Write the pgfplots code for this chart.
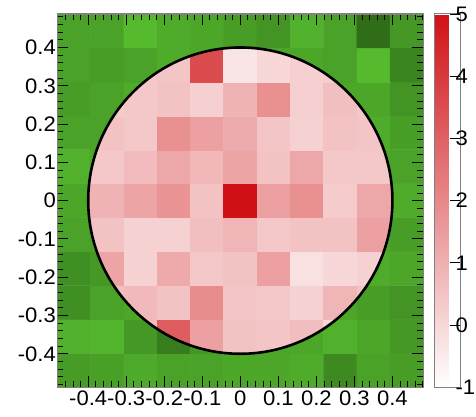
\documentclass[border=0pt]{standalone}
\usepackage{pgfplots}
\pgfplotsset{compat=1.18}
\usepackage{pgfplotstable}
\usepackage{fontspec}
\setmainfont{Liberation Sans}
\newfontfamily\tickfont[FakeStretch=1.05]{Liberation Sans}
\pgfplotsset{
  colormap={greenmap}{rgb255(0cm)=(40,95,20); rgb255(1cm)=(88,190,48)},
  colormap={pinkmap}{rgb255(0cm)=(255,255,255); rgb255(1cm)=(208,18,22)},
}
\pgfplotstableread{
x y pink green
-0.4375 -0.44318 0.5 2.8
-0.35 -0.44318 0.5 3.1
-0.2625 -0.44318 0.5 3.7
-0.175 -0.44318 0.5 3.2
-0.0875 -0.44318 0.5 3.2
0 -0.44318 0.45 3.5
0.0875 -0.44318 0.5 3.5
0.175 -0.44318 0.5 3.8
0.2625 -0.44318 0.5 1.7
0.35 -0.44318 0.5 3.2
0.4375 -0.44318 0.5 2.9
-0.4375 -0.35455 0.5 4.1
-0.35 -0.35455 0.5 4.4
-0.2625 -0.35455 0.65 2.6
-0.175 -0.35455 3.1 0.9
-0.0875 -0.35455 1.4 2.6
0 -0.35455 0.5 3.5
0.0875 -0.35455 0.45 3.5
0.175 -0.35455 0.65 3.5
0.2625 -0.35455 0.0 4.1
0.35 -0.35455 0.5 3.5
0.4375 -0.35455 0.5 2.6
-0.4375 -0.26591 0.5 2.0
-0.35 -0.26591 0.6 3.2
-0.2625 -0.26591 0.75 3.5
-0.175 -0.26591 0.5 3.5
-0.0875 -0.26591 1.9 3.5
0 -0.26591 0.45 3.5
0.0875 -0.26591 0.4 3.5
0.175 -0.26591 0.15 3.5
0.2625 -0.26591 0.85 3.5
0.35 -0.26591 0.5 2.9
0.4375 -0.26591 0.5 2.3
-0.4375 -0.17727 0.5 2.0
-0.35 -0.17727 1.3 2.6
-0.2625 -0.17727 0.15 3.5
-0.175 -0.17727 1.15 3.5
-0.0875 -0.17727 0.4 3.5
0 -0.17727 0.5 3.5
0.0875 -0.17727 1.4 3.5
0.175 -0.17727 -0.25 3.5
0.2625 -0.17727 0.0 3.5
0.35 -0.17727 0.15 3.8
0.4375 -0.17727 0.5 3.5
-0.4375 -0.08864 0.5 3.2
-0.35 -0.08864 0.5 3.2
-0.2625 -0.08864 0.15 3.5
-0.175 -0.08864 0.15 3.5
-0.0875 -0.08864 0.6 3.5
0 -0.08864 0.85 3.5
0.0875 -0.08864 0.4 3.5
0.175 -0.08864 0.5 3.5
0.2625 -0.08864 0.5 3.5
0.35 -0.08864 1.4 3.5
0.4375 -0.08864 0.5 2.9
-0.4375 0 0.9 3.5
-0.35 0 0.9 3.5
-0.2625 0 1.3 3.5
-0.175 0 1.7 3.5
-0.0875 0 0.5 3.5
0 0 5.0 3.5
0.0875 0 1.4 3.5
0.175 0 1.8 3.5
0.2625 0 0.3 3.5
0.35 0 1.2 3.5
0.4375 0 1.2 3.8
-0.4375 0.08864 0.5 4.1
-0.35 0.08864 0.4 3.5
-0.2625 0.08864 0.7 3.5
-0.175 0.08864 1.2 3.5
-0.0875 0.08864 0.8 3.5
0 0.08864 1.3 3.5
0.0875 0.08864 0.5 3.5
0.175 0.08864 1.2 3.5
0.2625 0.08864 0.4 3.5
0.35 0.08864 0.4 3.5
0.4375 0.08864 0.5 3.2
-0.4375 0.17727 0.5 3.2
-0.35 0.17727 0.5 3.2
-0.2625 0.17727 0.4 3.5
-0.175 0.17727 1.8 3.5
-0.0875 0.17727 1.4 3.5
0 0.17727 1.1 3.5
0.0875 0.17727 0.45 3.5
0.175 0.17727 0.15 3.5
0.2625 0.17727 0.5 3.5
0.35 0.17727 0.45 3.8
0.4375 0.17727 0.5 3.0
-0.4375 0.26591 0.5 2.9
-0.35 0.26591 0.3 3.2
-0.2625 0.26591 0.4 3.8
-0.175 0.26591 0.5 3.5
-0.0875 0.26591 0.2 3.5
0 0.26591 0.9 3.5
0.0875 0.26591 1.8 3.5
0.175 0.26591 0.2 3.5
0.2625 0.26591 0.6 3.5
0.35 0.26591 0.4 3.5
0.4375 0.26591 0.5 2.3
-0.4375 0.35455 0.5 3.2
-0.35 0.35455 0.5 2.9
-0.2625 0.35455 0.4 3.2
-0.175 0.35455 0.45 3.8
-0.0875 0.35455 3.5 3.5
0 0.35455 -0.35 3.5
0.0875 0.35455 0.0 3.5
0.175 0.35455 0.2 3.5
0.2625 0.35455 0.3 3.2
0.35 0.35455 0.5 4.7
0.4375 0.35455 0.5 1.4
-0.4375 0.44318 0.5 3.2
-0.35 0.44318 0.5 3.2
-0.2625 0.44318 0.5 4.7
-0.175 0.44318 0.5 3.8
-0.0875 0.44318 0.5 3.5
0 0.44318 -0.35 2.9
0.0875 0.44318 0.5 2.3
0.175 0.44318 0.5 4.1
0.2625 0.44318 0.5 3.2
0.35 0.44318 0.5 -0.1
0.4375 0.44318 0.5 2.6
}\cells
\begin{document}
\begin{tikzpicture}
\useasboundingbox (0,0) rectangle (476pt,416pt);
\begin{axis}[
  at={(57.3pt,28.7pt)}, anchor=south west,
  scale only axis, width=366pt, height=373.3pt,
  xmin=-0.48125, xmax=0.48125, ymin=-0.4875, ymax=0.4875,
  colormap name=pinkmap,
  point meta min=-1, point meta max=5,
  axis on top,
  axis line style={draw=gray, line width=1.5pt},
  tick align=inside,
  major tick length=11pt, minor tick length=6pt,
  every tick/.style={black, line width=0.9pt},
  xtick={-0.4,-0.3,-0.2,-0.1,0,0.1,0.2,0.3,0.4},
  xticklabels={-0.4,-0.3,-0.2,-0.1,0,0.1,0.2,0.3,0.4},
  ytick={-0.4,-0.3,-0.2,-0.1,0,0.1,0.2,0.3,0.4},
  yticklabels={-0.4,-0.3,-0.2,-0.1,0,0.1,0.2,0.3,0.4},
  minor xtick={-0.48,-0.46,-0.44,-0.42,-0.38,-0.36,-0.34,-0.32,-0.28,-0.26,-0.24,-0.22,-0.18,-0.16,-0.14,-0.12,-0.08,-0.06,-0.04,-0.02,0.02,0.04,0.06,0.08,0.12,0.14,0.16,0.18,0.22,0.24,0.26,0.28,0.32,0.34,0.36,0.38,0.42,0.44,0.46,0.48},
  minor ytick={-0.48,-0.46,-0.44,-0.42,-0.38,-0.36,-0.34,-0.32,-0.28,-0.26,-0.24,-0.22,-0.18,-0.16,-0.14,-0.12,-0.08,-0.06,-0.04,-0.02,0.02,0.04,0.06,0.08,0.12,0.14,0.16,0.18,0.22,0.24,0.26,0.28,0.32,0.34,0.36,0.38,0.42,0.44,0.46,0.48},
  tick label style={font=\tickfont\fontsize{21}{22}\selectfont, black},
  xticklabel style={inner xsep=0pt},
  yticklabel style={xshift=2pt},
  colorbar,
  colorbar style={
    at={(parent axis.north east)}, anchor=north west, xshift=2.7pt,
    width=26pt,
    ytick={-1,0,1,2,3,4,5},
    yticklabels={-1,0,1,2,3,4,5},
    minor ytick={},
    ytick pos=right, yticklabel pos=right,
    tick align=inside, major tick length=11pt,
    axis line style={draw=gray, line width=1pt},
    every tick/.style={black, line width=0.9pt},
    yticklabel style={font=\tickfont\fontsize{21}{22}\selectfont, xshift=-8.5pt},
  },
]
\addplot[matrix plot*, mesh/cols=11, colormap name=greenmap, point meta=\thisrow{green}] table[x=x, y=y] {\cells};
\begin{scope}
\clip (axis cs:0,0) ellipse [x radius=0.4, y radius=0.4];
\addplot[matrix plot*, mesh/cols=11, point meta=\thisrow{pink}] table[x=x, y=y] {\cells};
\end{scope}
\draw[black, line width=2.6pt] (axis cs:0,0) ellipse [x radius=0.4, y radius=0.4];
\end{axis}
\end{tikzpicture}
\end{document}
